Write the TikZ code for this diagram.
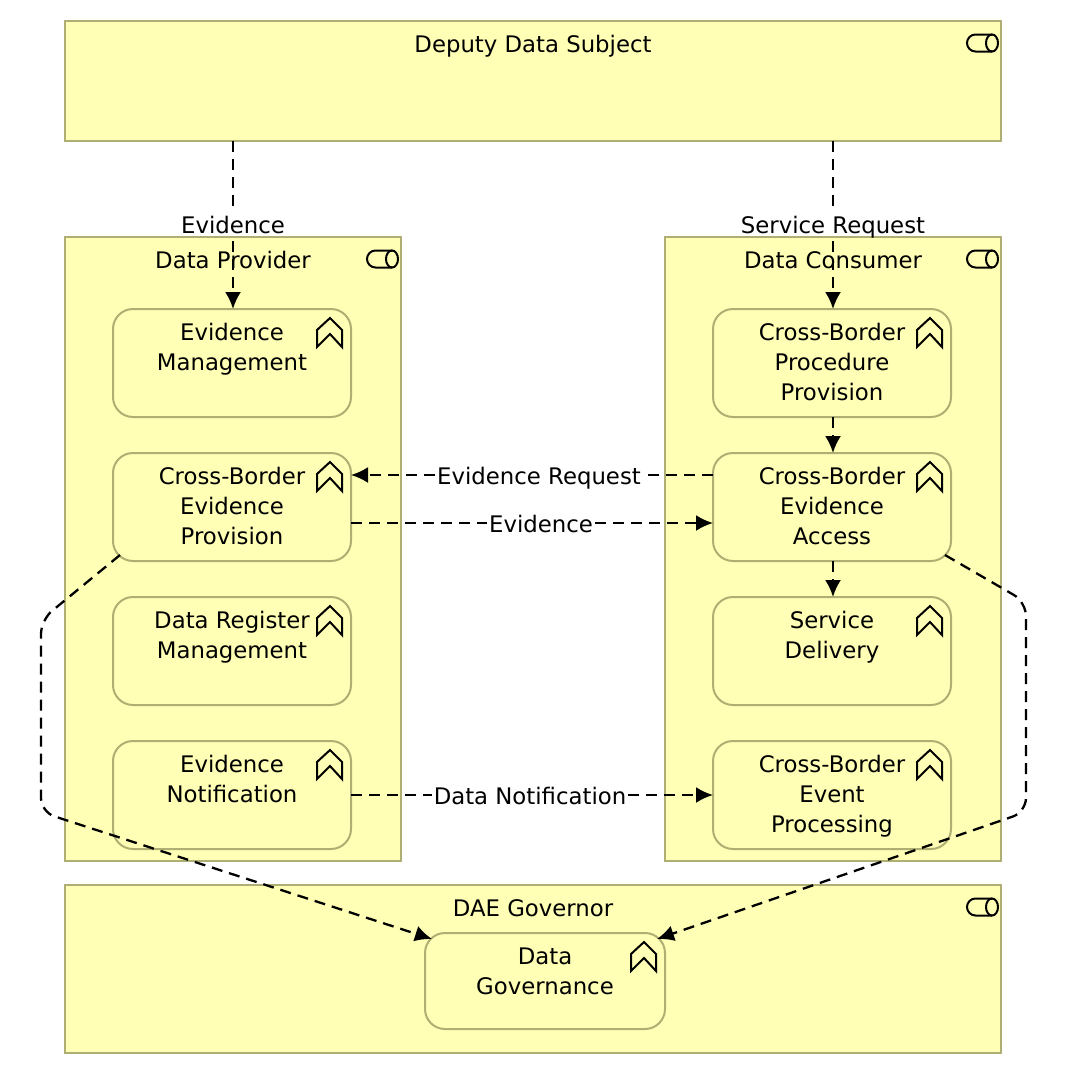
\documentclass[tikz,border=0pt]{standalone}
\usepackage{fontspec}
\setmainfont{DejaVu Sans}
\usetikzlibrary{arrows.meta}
\definecolor{archifill}{HTML}{FFFFB5}
\definecolor{archiline}{HTML}{AFAF74}
\newcommand\boxtext[3]{\begin{minipage}[t][#2pt][t]{#1pt}\centering\rule{0pt}{31pt}#3\end{minipage}}
\newcommand\chevicon[1]{\begin{scope}[shift={(#1.north east)}]
 \draw[iconline] (-34,21) -- (-21,9) -- (-9,21) -- (-9,38) -- (-21,25) -- (-34,38) -- cycle;
\end{scope}}
\newcommand\actoricon[1]{\begin{scope}[shift={(#1.north east)}]
 \draw[iconline,rounded corners=8.5pt] (-9,13.5) -- (-34,13.5) -- (-34,30.5) -- (-9,30.5);
 \draw[iconline] (-9,22) ellipse[x radius=6,y radius=8.5];
\end{scope}}
\tikzset{
 txt/.style={font=\fontsize{22.8}{30}\selectfont,text=black},
 role/.style={txt,draw=archiline,fill=archifill,line width=2pt,inner sep=0pt,outer sep=0pt,anchor=north west},
 func/.style={role,rounded corners=20pt},
 iconline/.style={draw=black,line width=2pt,line join=miter},
 link/.style={draw=black,line width=2.3pt,dash pattern=on 11pt off 7pt,-{Latex[length=17pt,width=16pt]}},
 plain/.style={draw=black,line width=2.3pt,dash pattern=on 11pt off 7pt},
 vlab/.style={txt,inner sep=0pt,outer sep=2pt,text height=18pt,text depth=6pt},
 hlab/.style={txt,inner sep=0pt,outer sep=2pt,text height=18pt,text depth=0pt},
}
\begin{document}
\begin{tikzpicture}[x=1pt,y=-1pt]
\useasboundingbox (0,0) rectangle (1066,1074);
% containers
\node[role] (deputy) at (65,21) {\boxtext{936}{120}{Deputy Data Subject}};
\node[role] (provider) at (65,237) {\boxtext{336}{624}{Data Provider}};
\node[role] (consumer) at (665,237) {\boxtext{336}{624}{Data Consumer}};
\node[role] (dae) at (65,885) {\boxtext{936}{168}{DAE Governor}};
\actoricon{deputy}\actoricon{provider}\actoricon{consumer}\actoricon{dae}
% provider functions
\node[func] (mgmt) at (113,309) {\boxtext{238}{108}{Evidence\\Management}};
\node[func] (prov) at (113,453) {\boxtext{238}{108}{Cross-Border\\Evidence\\Provision}};
\node[func] (reg) at (113,597) {\boxtext{238}{108}{Data Register\\Management}};
\node[func] (notif) at (113,741) {\boxtext{238}{108}{Evidence\\Notification}};
% consumer functions
\node[func] (proc) at (713,309) {\boxtext{238}{108}{Cross-Border\\Procedure\\Provision}};
\node[func] (acc) at (713,453) {\boxtext{238}{108}{Cross-Border\\Evidence\\Access}};
\node[func] (deliv) at (713,597) {\boxtext{238}{108}{Service\\Delivery}};
\node[func] (event) at (713,741) {\boxtext{238}{108}{Cross-Border\\Event\\Processing}};
% governance
\node[func] (gov) at (425,933) {\boxtext{240}{96}{Data\\Governance}};
\chevicon{mgmt}\chevicon{prov}\chevicon{reg}\chevicon{notif}
\chevicon{proc}\chevicon{acc}\chevicon{deliv}\chevicon{event}\chevicon{gov}
% connector labels
\node[vlab] (l1) at (233,227) {Evidence};
\node[vlab] (l2) at (833,227) {Service Request};
\node[hlab] (l3) at (539,475) {Evidence Request};
\node[hlab] (l4) at (541,523) {Evidence};
\node[hlab] (l5) at (530,795) {Data Notification};
% connectors
\draw[plain] (deputy.south -| l1) -- (l1);
\draw[link] (l1) -- (l1 |- mgmt.north);
\draw[plain] (deputy.south -| l2) -- (l2);
\draw[link] (l2) -- (l2 |- proc.north);
\draw[link] (l2 |- proc.south) -- (l2 |- acc.north);
\draw[link] (l2 |- acc.south) -- (l2 |- deliv.north);
\draw[plain] (acc.west |- l3) -- (l3);
\draw[link] (l3) -- (prov.east |- l3);
\draw[plain] (prov.east |- l4) -- (l4);
\draw[link] (l4) -- (acc.west |- l4);
\draw[plain] (notif.east |- l5) -- (l5);
\draw[link] (l5) -- (event.west |- l5);
\coordinate (c1) at (41,620);
\coordinate (c2) at (41,812);
\coordinate (c3) at (1026,602);
\coordinate (c4) at (1026,812);
\draw[link,rounded corners=14pt] ([xshift=7pt,yshift=6pt]prov.south west) -- (c1) -- (c2) -- ([xshift=7pt,yshift=-6pt]gov.north west);
\draw[link,rounded corners=14pt] ([xshift=-6pt,yshift=6pt]acc.south east) -- (c3) -- (c4) -- ([xshift=-8pt,yshift=-6pt]gov.north east);
\end{tikzpicture}
\end{document}
